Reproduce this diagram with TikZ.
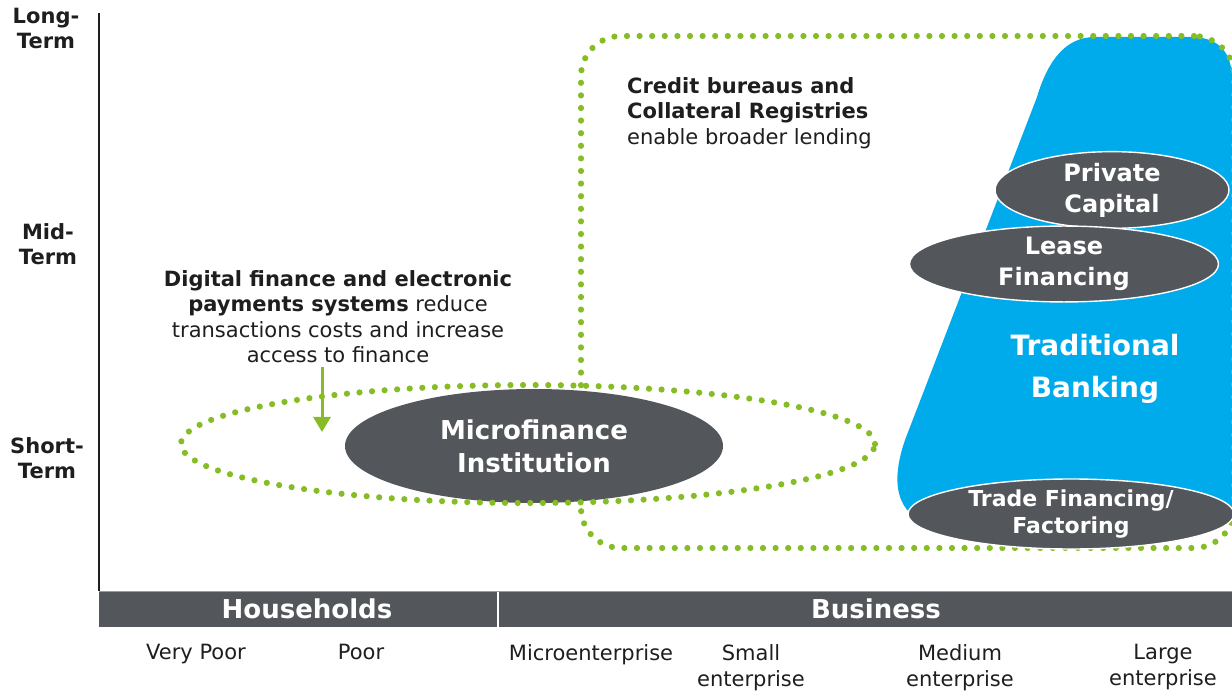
\documentclass[tikz,border=0pt]{standalone}
\usepackage{fontspec}
\setmainfont{DejaVu Sans}
\usepackage{tikz}
\usetikzlibrary{arrows.meta, positioning, shapes.geometric}
\definecolor{finGreen}{RGB}{134,188,37}
\definecolor{finGray}{RGB}{83,86,90}
\definecolor{finBlue}{RGB}{0,171,235}
\definecolor{finInk}{RGB}{30,30,30}

\begin{document}
\begin{tikzpicture}[
    x=1pt, y=-1pt,
    bubble/.style    = {ellipse, fill=finGray, draw=white, line width=1.4pt,
                        text=white, align=center, inner sep=0pt,
                        font=\bfseries\fontsize{24}{31}\selectfont},
    dotline/.style   = {draw=finGreen, line width=6.2pt, line cap=round,
                        dash pattern=on 0pt off 12.6pt, inner sep=0pt},
    axislabel/.style = {align=center, inner sep=0pt, anchor=north, text=finInk,
                        font=\bfseries\fontsize{21}{25}\selectfont},
    sizelabel/.style = {align=center, inner sep=0pt, anchor=north, text=finInk,
                        font=\fontsize{21}{26}\selectfont},
    note/.style      = {inner sep=0pt, text=finInk,
                        font=\fontsize{21}{25.5}\selectfont},
    band/.style      = {fill=finGray, inner sep=0pt, minimum height=35pt},
    bandtext/.style  = {text=white, inner sep=0pt,
                        font=\bfseries\fontsize{26}{30}\selectfont},
    pointer/.style   = {-{Triangle[length=15pt,width=17pt]}, line width=3pt,
                        draw=finGreen}
]
\useasboundingbox (0,0) rectangle (1232,692);

% Traditional banking block
\fill[finBlue] (1232,75) .. controls (1230,48) and (1215,37) .. (1190,37)
    -- (1095,37) .. controls (1066,37) and (1048,60) .. (1037,97)
    -- (905,440) .. controls (893,475) and (895,500) .. (912,515)
    -- (1232,515) -- cycle;
\node[text=white, align=center, inner sep=0pt,
      font=\bfseries\fontsize{28}{42}\selectfont] (tb) at (1095,369)
    {Traditional\\Banking};

% Dotted frame (credit bureaus) and dotted ring (digital finance)
\node[dotline, rectangle, rounded corners=40pt,
      minimum width=653pt, minimum height=512pt] (cbframe) at (907.5,292) {};
\node[bubble, draw=none, font=\bfseries\fontsize{26}{33}\selectfont,
      minimum width=378pt, minimum height=114pt] (mfi) at (534,446)
    {Microfinance\\Institution};
\node[dotline, ellipse, minimum width=694pt, minimum height=118pt]
    (dgring) at (528,444) {};

% Products sitting on the banking block
\node[bubble, minimum width=234pt, minimum height=69pt] (pc) at (1112,190)
    {Private\\Capital};
\node[bubble, minimum width=309pt, minimum height=71pt] (lf) at (1064,264)
    {Lease\\Financing};
\node[bubble, font=\bfseries\fontsize{22}{27}\selectfont,
      minimum width=326pt, minimum height=70pt] (tf) at (1071,514)
    {Trade Financing/\\Factoring};

% Annotations
\node[note, align=left, anchor=north west] (cb) at (627,77)
    {\textbf{Credit bureaus and}\\
     \textbf{Collateral Registries}\\
     enable broader lending};
\node[note, align=center, anchor=north] (dg) at (338,270)
    {\textbf{Digital finance and electronic}\\
     \textbf{payments systems} reduce\\
     transactions costs and increase\\
     access to finance};
\coordinate (dgtip) at (322,432);
\draw[pointer] ([yshift=-4pt]dgtip |- dg.south) -- (dgtip);

% Time axis
\coordinate (ytop) at (99,13);
\coordinate (yorig) at (99,591);
\coordinate (xend) at (1232,591);
\draw[line width=2pt, finInk] (ytop) -- (yorig);
\draw[line width=1pt, finGreen] (yorig) -- (xend);
\node[axislabel] (lt) at (46,8)   {Long-\\Term};
\node[axislabel] (mt) at (48,223) {Mid-\\Term};
\node[axislabel] (st) at (47,437) {Short-\\Term};

% Segment band
\node[band, minimum width=398pt] (hhbar) at (298,609.5) {};
\node[band, minimum width=733pt] (bzbar) at (865.5,609.5) {};
\node[bandtext] (hh) at (307,609) {Households};
\node[bandtext] (bz) at (876,609) {Business};

% Client sizes
\node[sizelabel] (vp) at (196,644)  {Very Poor};
\node[sizelabel] (po) at (361,644)  {Poor};
\node[sizelabel] (me) at (591,644)  {Microenterprise};
\node[sizelabel] (se) at (751,644)  {Small\\enterprise};
\node[sizelabel] (md) at (960,644)  {Medium\\enterprise};
\node[sizelabel] (le) at (1163,644) {Large\\enterprise};

\end{tikzpicture}
\end{document}
